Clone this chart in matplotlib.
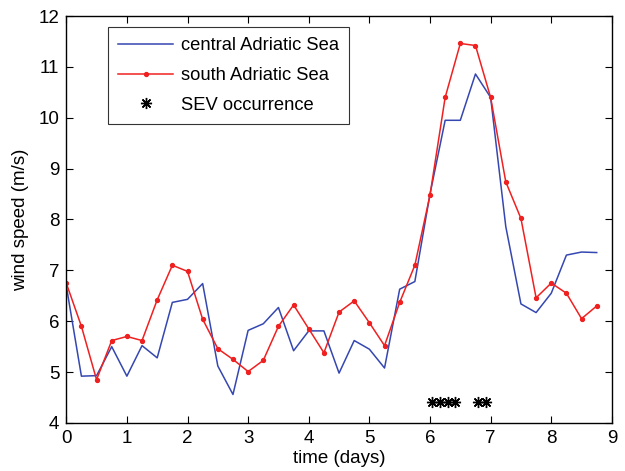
import numpy as np
from matplotlib import pyplot as plt

plt.rcParams['font.family'] = ['Liberation Sans', 'DejaVu Sans']

# time axis, 6-hourly samples
days = np.arange(36) * 0.25

central = [6.70, 4.92, 4.93, 5.50, 4.92, 5.52, 5.28, 6.37, 6.43, 6.74,
           5.12, 4.56, 5.82, 5.95, 6.27, 5.42, 5.81, 5.81, 4.98, 5.62,
           5.45, 5.08, 6.63, 6.78, 8.50, 9.95, 9.95, 10.86, 10.40, 7.86,
           6.34, 6.17, 6.55, 7.30, 7.36, 7.35]

south = [6.75, 5.90, 4.85, 5.62, 5.70, 5.62, 6.42, 7.10, 6.98, 6.04,
         5.46, 5.25, 5.01, 5.23, 5.90, 6.32, 5.85, 5.38, 6.18, 6.40,
         5.97, 5.52, 6.37, 7.10, 8.48, 10.40, 11.46, 11.42, 10.40, 8.74,
         8.02, 6.46, 6.75, 6.55, 6.05, 6.30]

sev_days = [6.04, 6.17, 6.29, 6.42, 6.79, 6.92]
sev_level = 4.42

fig = plt.figure(figsize=(6.25, 4.71), dpi=100)
ax = fig.add_axes([0.106, 0.102, 0.873, 0.864])

ax.plot(days, central, color='#3547b0', lw=1.1, label='central Adriatic Sea')
ax.plot(days, south, color='#f02020', lw=1.1, marker='o', ms=2.8,
        label='south Adriatic Sea')
ax.plot(sev_days, [sev_level] * len(sev_days), ls='none', color='black',
        marker=(8, 2, 0), ms=8, mew=1.0, label='SEV occurrence')

ax.set_xlim(0, 9)
ax.set_ylim(4, 12)
ax.set_xticks(range(10))
ax.set_yticks(range(4, 13))
ax.tick_params(direction='in', length=5, width=0.8, labelsize=13.5,
               top=True, right=True, pad=5)
for sp in ax.spines.values():
    sp.set_linewidth(1.0)

ax.set_xlabel('time (days)', fontsize=13.5, labelpad=2)
ax.set_ylabel('wind speed (m/s)', fontsize=13.5, labelpad=7)

leg = ax.legend(loc='upper left', bbox_to_anchor=(0.077, 0.973),
                borderaxespad=0, fontsize=13.2, frameon=True, fancybox=False,
                edgecolor='black', handlelength=3.0, handletextpad=0.4,
                borderpad=0.55, labelspacing=0.7)
leg.get_frame().set_linewidth(0.8)

fig.savefig('out.png', dpi=100)
plt.close('all')
